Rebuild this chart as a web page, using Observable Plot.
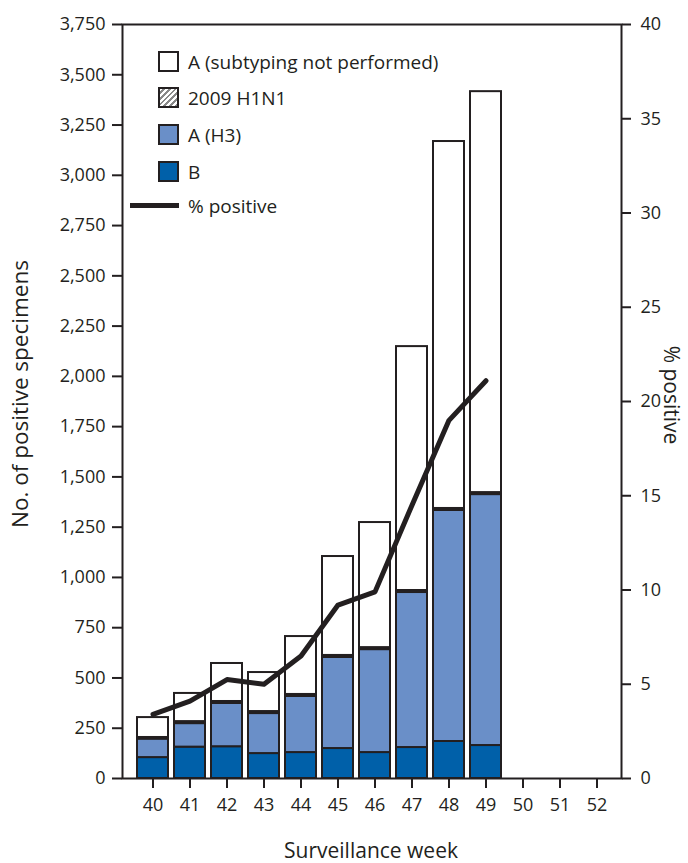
<!DOCTYPE html>
<html><head><meta charset="utf-8">
<script src="https://cdn.jsdelivr.net/npm/d3@7"></script>
<script src="https://cdn.jsdelivr.net/npm/@observablehq/plot@0.6"></script>
<style>
body{margin:0;background:#fff;font-family:"Open Sans",sans-serif;color:#231f20}
#wrap{position:relative;width:688px;height:863px}
.item{position:absolute;display:flex;align-items:center;font-size:19px;white-space:nowrap;height:21px}
.sw{width:17px;height:17px;border:2px solid #231f20;margin-right:9px;flex:none}
.ln{width:49px;height:5px;background:#231f20;margin-right:9px;flex:none}
</style></head><body><div id="wrap"></div>
<script>
// Surveillance weeks (x axis)
const weeks = [40, 41, 42, 43, 44, 45, 46, 47, 48, 49, 50, 51, 52];
// Weeks with data
const dataWeeks = [40, 41, 42, 43, 44, 45, 46, 47, 48, 49];
// Number of positive specimens by type (stack segments)
const seriesB = [104, 156, 158, 124, 129, 149, 129, 154, 184, 164];
const seriesH3 = [92, 117, 215, 199, 279, 453, 512, 771, 1149, 1248];
const seriesH1N1 = [8, 10, 10, 10, 10, 10, 10, 10, 10, 10];
const seriesANotSubtyped = [99, 140, 189, 194, 288, 492, 622, 1213, 1825, 1994];
// Percent positive (right axis)
const pctPositive = [3.4, 4.1, 5.25, 5.0, 6.5, 9.2, 9.9, 14.5, 19.0, 21.1];
// Axis ticks
const leftTicks = [0, 250, 500, 750, 1000, 1250, 1500, 1750, 2000, 2250, 2500, 2750, 3000, 3250, 3500, 3750];
const rightTicks = [0, 5, 10, 15, 20, 25, 30, 35, 40];
// Series names, in stack order (bottom to top)
const types = ["B", "A (H3)", "2009 H1N1", "A (subtyping not performed)"];
const typeFills = ["#0060a9", "#6a8fc8", "url(#hatch)", "#ffffff"];

const rows = [];
const segs = [seriesB, seriesH3, seriesH1N1, seriesANotSubtyped];
dataWeeks.forEach((w, i) => {
  types.forEach((t, j) => rows.push({week: w, type: t, value: segs[j][i]}));
});
const pctRows = dataWeeks.map((w, i) => ({week: w, pct: pctPositive[i]}));
const k = 3750 / 40;
const ink = "#231f20";

const chart = Plot.plot({
  width: 688, height: 863,
  marginLeft: 122, marginRight: 67, marginTop: 24, marginBottom: 85,
  style: {fontFamily: "'Open Sans', sans-serif", fontSize: "18px", color: ink, background: "#fff"},
  x: {type: "band", domain: weeks, range: [134.5, 615.5], paddingInner: 0.16, paddingOuter: 0.08, align: 0.5},
  y: {domain: [0, 3750]},
  color: {type: "ordinal", domain: types, range: typeFills},
  marks: [
    Plot.barY(rows, {x: "week", y: "value", fill: "type", stroke: ink, strokeWidth: 2, order: types}),
    Plot.line(pctRows, {x: "week", y: d => d.pct * k, stroke: ink, strokeWidth: 5}),
    Plot.frame({stroke: ink, strokeWidth: 2}),
    Plot.axisY(leftTicks, {anchor: "left", tickSize: 10, tickPadding: 7, tickFormat: d3.format(","), label: null, strokeWidth: 2, fontSize: 18}),
    Plot.axisY(rightTicks.map(v => v * k), {anchor: "right", tickSize: 9, tickPadding: 10, tickFormat: d => String(Math.round(d / k)), label: null, strokeWidth: 2, fontSize: 18}),
    Plot.axisX(weeks, {tickSize: 10, tickPadding: 10, label: null, strokeWidth: 2, fontSize: 18})
  ]
});

const svg = d3.select(chart);
svg.insert("defs", ":first-child").html(
  '<pattern id="hatch" width="4" height="4" patternUnits="userSpaceOnUse" patternTransform="rotate(45)">' +
  '<rect width="4" height="4" fill="#fff"/><line x1="0" y1="0" x2="0" y2="4" stroke="#888" stroke-width="2"/></pattern>'
);
svg.append("text").attr("x", 371).attr("y", 858).attr("text-anchor", "middle")
  .attr("font-size", 21).attr("fill", ink).text("Surveillance week");
svg.append("text").attr("transform", "translate(22,394) rotate(-90)").attr("text-anchor", "middle")
  .attr("dominant-baseline", "middle").attr("font-size", 22.5).attr("fill", ink).text("No. of positive specimens");
svg.append("text").attr("transform", "translate(670,395) rotate(90)").attr("text-anchor", "middle")
  .attr("dominant-baseline", "middle").attr("font-size", 21).attr("fill", ink).text("% positive");

const wrap = document.getElementById("wrap");
wrap.appendChild(chart);

// Legend
const legendItems = [
  {label: "A (subtyping not performed)", bg: "#ffffff", top: 51},
  {label: "2009 H1N1", bg: "repeating-linear-gradient(135deg,#fff 0 2px,#888 2px 4px)", top: 87},
  {label: "A (H3)", bg: "#6a8fc8", top: 124},
  {label: "B", bg: "#0060a9", top: 161}
];
legendItems.forEach(it => {
  const d = document.createElement("div");
  d.className = "item";
  d.style.left = "158px"; d.style.top = it.top + "px";
  d.innerHTML = `<span class="sw" style="background:${it.bg}"></span><span>${it.label}</span>`;
  wrap.appendChild(d);
});
const ld = document.createElement("div");
ld.className = "item"; ld.style.left = "130px"; ld.style.top = "195px";
ld.innerHTML = '<span class="ln"></span><span>% positive</span>';
wrap.appendChild(ld);
</script></body></html>
